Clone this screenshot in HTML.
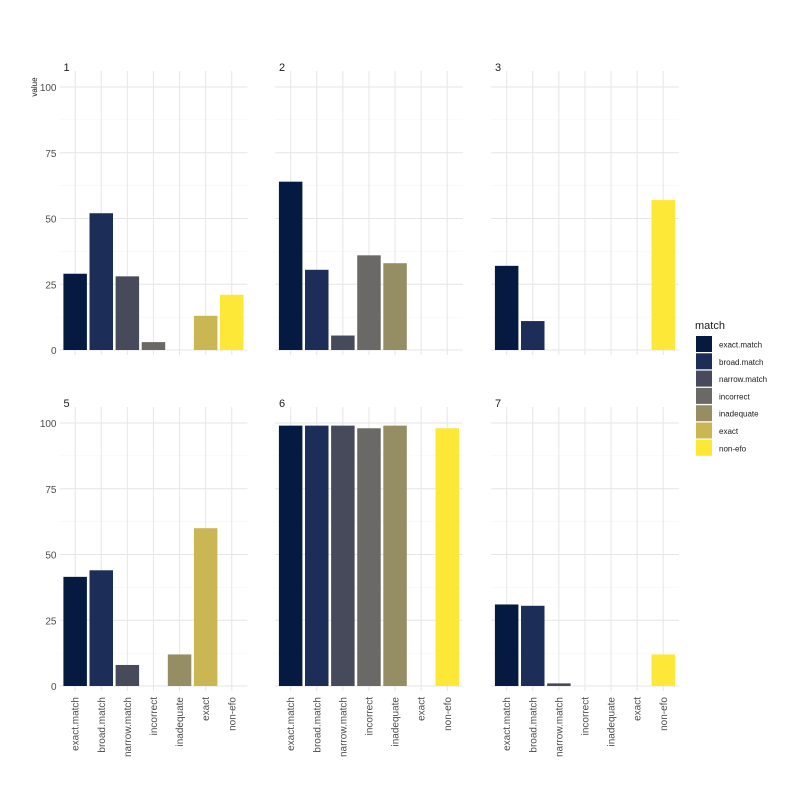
<!DOCTYPE html>
<html><head><meta charset="utf-8"><style>
body{margin:0;background:#fff;}
svg text{font-family:"Liberation Sans",sans-serif;}
</style></head><body>
<svg id="chart" width="800" height="800" xmlns="http://www.w3.org/2000/svg"></svg>
<script>
const categories=["exact.match","broad.match","narrow.match","incorrect","inadequate","exact","non-efo"];
const colors=["#041a40","#1c2d58","#474a5b","#6a6965","#958d64","#cbb654","#fde737"];
const facetLabels=["1","2","3","5","6","7"];
const values1=[29,52,28,3,0,13,21];
const values2=[64,30.5,5.5,36,33,0,0];
const values3=[32,11,0,0,0,0,57];
const values5=[41.5,44,8,0,12,60,0];
const values6=[99,99,99,98,99,0,98];
const values7=[31,30.5,1,0,0,0,12];
const yTicks=[0,25,50,75,100];
const allValues=[values1,values2,values3,values5,values6,values7];
const NS="http://www.w3.org/2000/svg";
const svg=document.getElementById('chart');
function mk(t,a,p){const e=document.createElementNS(NS,t);for(const k in a)e.setAttribute(k,a[k]);(p||svg).appendChild(e);return e;}
const panelX=[59.5,275,491], panelY0=[350,686], panelY100=[87,423];
const step=26.1;
for(let f=0;f<6;f++){
  const col=f%3,row=Math.floor(f/3);
  const x0=panelX[col],w=step*7.2;
  const y0=panelY0[row],y1=panelY100[row];
  const ys=v=>y0-(v/100)*(y0-y1);
  const xs=i=>x0+step*(0.6+i);
  const g=mk('g',{});
  
  
  for(let v=12.5;v<=112.5;v+=25){const y=ys(v);if(y<y1-16)continue;mk('line',{x1:x0,x2:x0+w,y1:y,y2:y,stroke:'#f3f3f3','stroke-width':0.6},g);}
  yTicks.forEach(t=>{mk('line',{x1:x0,x2:x0+w,y1:ys(t),y2:ys(t),stroke:'#e6e6e6','stroke-width':1},g);});
  categories.forEach((c,i)=>{mk('line',{x1:xs(i),x2:xs(i),y1:y1-16,y2:y0+5,stroke:'#e6e6e6','stroke-width':1},g);});
  allValues[f].forEach((v,i)=>{
    if(v<=0)return;
    const r=mk('rect',{x:xs(i)-step*0.45,y:ys(v),width:step*0.9,height:ys(0)-ys(v),fill:colors[i]},g);
    
    
  });
  const ft=mk('text',{x:x0+4,y:y1-16,'font-size':11,fill:'#1a1a1a'},g);ft.textContent=facetLabels[f];
  
  
  if(col===0){yTicks.forEach(t=>{const tx=mk('text',{x:x0-3,y:ys(t)+4,'font-size':10,fill:'#4d4d4d','text-anchor':'end'},g);tx.textContent=t;
    
    });}
  if(row===1){categories.forEach((c,i)=>{const tx=mk('text',{x:0,y:0,'font-size':10,fill:'#4d4d4d','text-anchor':'end',transform:`translate(${xs(i)+3.5},${y0+11}) rotate(-90)`},g);tx.textContent=c;
    
    });}
}
const yt=mk('text',{x:0,y:0,'font-size':8,fill:'#1a1a1a','text-anchor':'middle',transform:'translate(37,87) rotate(-90)'});yt.textContent='value';


const lg=mk('g',{});


const lt=mk('text',{x:695,y:329,'font-size':11,fill:'#1a1a1a'},lg);lt.textContent='match';
categories.forEach((c,i)=>{
  const y=336+i*17.3;
  const r=mk('rect',{x:696,y:y,width:16,height:16,fill:colors[i]},lg);
  
  
  const t=mk('text',{x:719,y:y+11.5,'font-size':8,fill:'#1a1a1a'},lg);t.textContent=c;
  
  
});
</script>
</body></html>
